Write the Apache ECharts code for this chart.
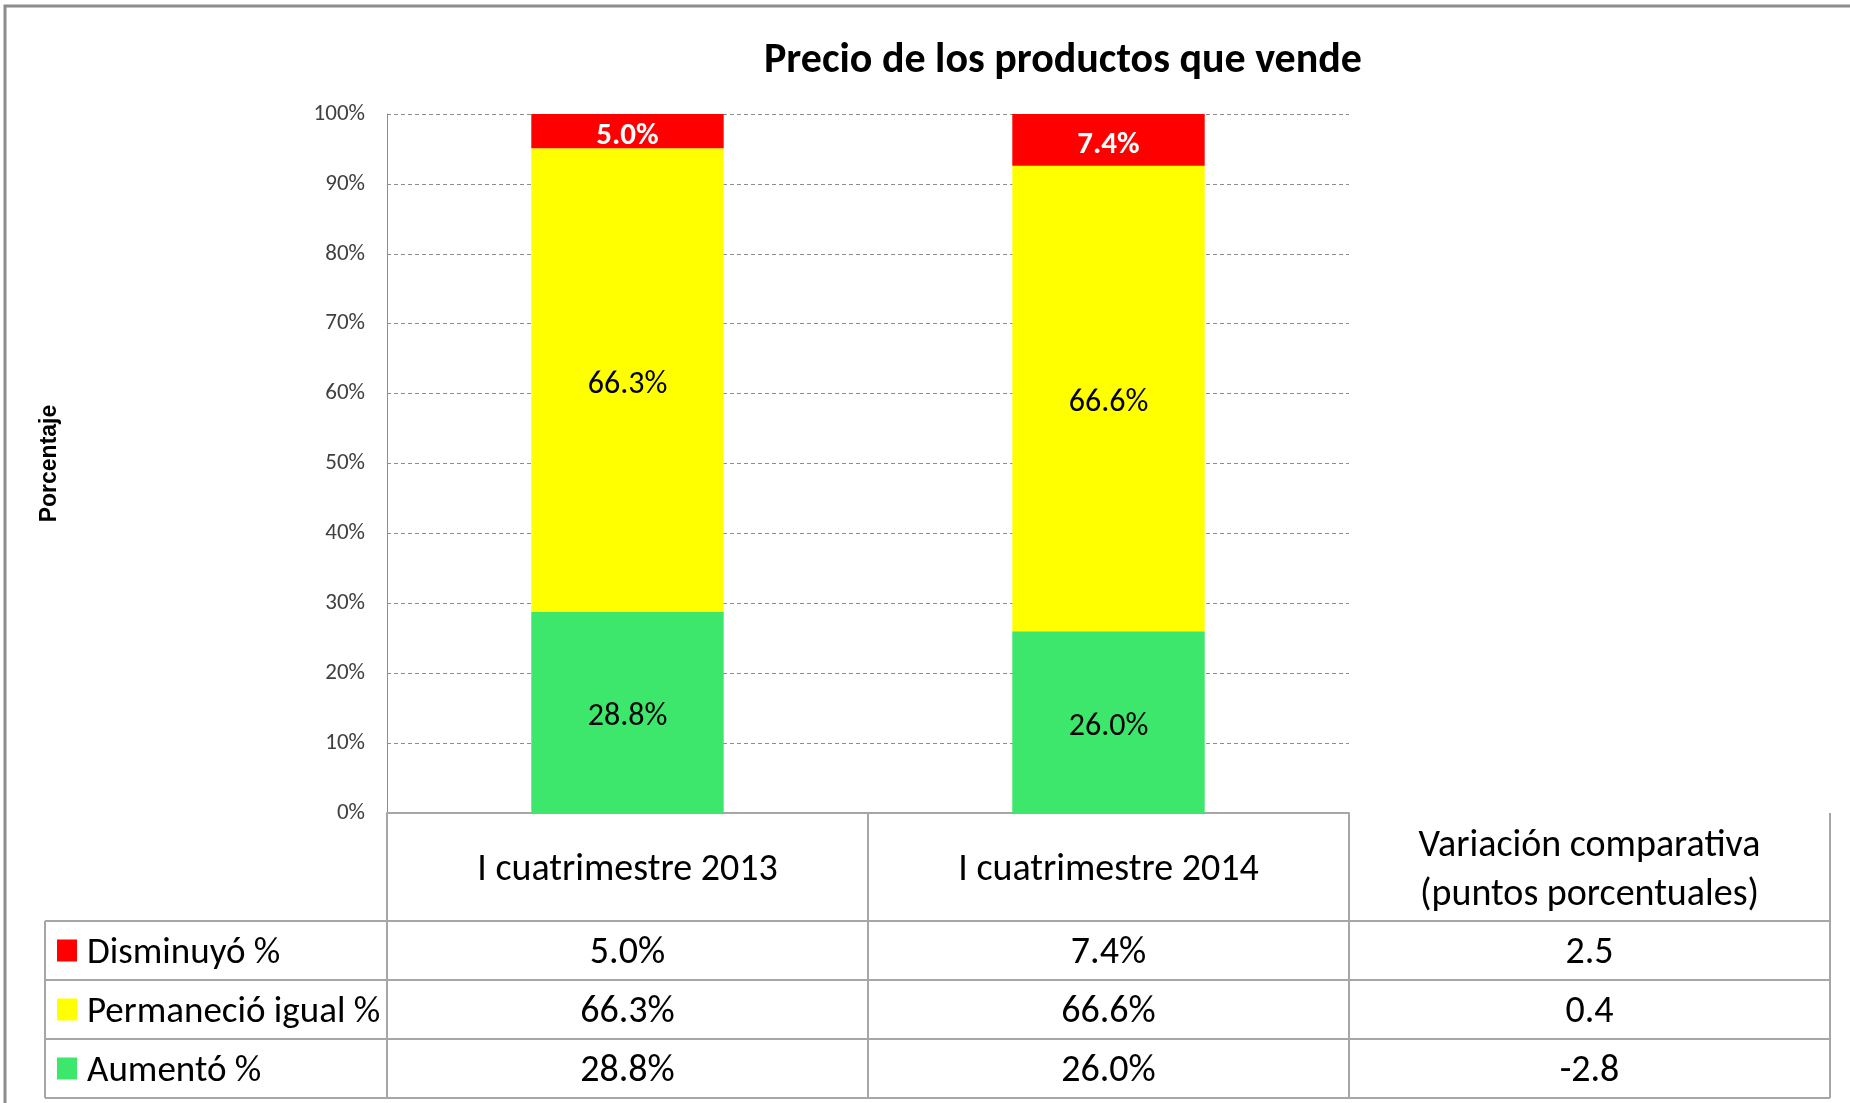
<!DOCTYPE html>
<html>
<head>
<meta charset="utf-8">
<title>Precio de los productos que vende</title>
<script src="https://cdn.jsdelivr.net/npm/echarts@6/dist/echarts.min.js"></script>
<style>
  html, body { margin: 0; padding: 0; background: #fff; }
  #chart { width: 1850px; height: 1103px; }
</style>
</head>
<body>
<div id="chart"></div>
<script>
// datos del gráfico
const categorias = ['I cuatrimestre 2013', 'I cuatrimestre 2014'];
const nombres = ['Disminuyó %', 'Permaneció igual %', 'Aumentó %'];
const disminuyo = [5.0, 7.4];
const permanecio = [66.3, 66.6];
const aumento = [28.8, 26.0];
const variacion = [2.5, 0.4, -2.8]; // en el orden de nombres
const encabezadoVariacion = ['Variación comparativa', '(puntos porcentuales)'];
const yMin = 0, yMax = 100, yPaso = 10;

const colores = ['#ff0000', '#ffff00', '#3de76b'];
const fuente = 'Carlito, "Liberation Sans Narrow", "DejaVu Sans Condensed", "Open Sans", sans-serif';
const gris = '#a6a6a6';

const chart = echarts.init(document.getElementById('chart'));

const fmt = v => v.toFixed(1) + '%';

function serie(nombre, datos, color, etiqueta) {
    return {
        name: nombre,
        type: 'bar',
        stack: 'total',
        barWidth: '40%',
        data: datos,
        itemStyle: { color: color },
        label: Object.assign({
            show: true,
            position: 'inside',
            offset: [0, 5],
            formatter: p => fmt(p.value),
            fontFamily: fuente,
            fontSize: 32,
            color: '#000'
        }, etiqueta || {})
    };
}

chart.setOption({
    animation: false,
    backgroundColor: '#fff',
    title: {
        text: 'Precio de los productos que vende',
        left: 1058,
        top: 35,
        textAlign: 'center',
        textStyle: { fontFamily: fuente, fontSize: 42, fontWeight: 'bold', color: '#000' }
    },
    grid: { left: 387, right: 501, top: 114, bottom: 290 },
    xAxis: {
        type: 'category',
        data: categorias,
        axisLine: { lineStyle: { color: gris, width: 2 } },
        axisTick: { show: false },
        axisLabel: { show: false }
    },
    yAxis: {
        type: 'value',
        min: yMin,
        max: yMax,
        interval: yPaso,
        name: 'Porcentaje',
        nameLocation: 'middle',
        nameRotate: 90,
        nameGap: 326,
        nameTextStyle: { fontFamily: '"Liberation Sans", Arial, sans-serif', fontWeight: 'bold', fontSize: 23, color: '#000' },
        axisLine: { show: true, lineStyle: { color: '#8c8c8c', width: 1 } },
        axisTick: { show: false },
        axisLabel: { formatter: '{value}%', fontFamily: fuente, fontSize: 23, color: '#404040', margin: 22 },
        splitLine: { lineStyle: { color: '#8c8c8c', type: [4, 3], width: 1 } }
    },
    series: [
        serie(nombres[2], aumento, colores[2]),
        serie(nombres[1], permanecio, colores[1]),
        serie(nombres[0], disminuyo, colores[0], { color: '#fff', fontWeight: 'bold', fontSize: 31 })
    ]
});

// tabla de datos bajo el gráfico
function dibujarTabla() {
    const y0 = chart.convertToPixel({ yAxisIndex: 0 }, 0);
    const cx = categorias.map((c, i) => chart.convertToPixel({ xAxisIndex: 0 }, i));
    const ancho = cx[1] - cx[0];
    cx.push(cx[1] + ancho); // columna de variación
    const xIzq = cx[0] - ancho / 2;
    const xDer = cx[2] + ancho / 2;
    const xLeyenda = 45;
    const altoEnc = 108, altoFila = 59;
    const dy = 3; // ajuste vertical del texto
    const yFilas = [0, 1, 2, 3].map(i => y0 + altoEnc + i * altoFila);

    const g = [];
    const linea = (x1, y1, x2, y2) => g.push({
        type: 'line', shape: { x1, y1, x2, y2 },
        style: { stroke: gris, lineWidth: 2 }, silent: true
    });
    const texto = (t, x, y, extra) => g.push({
        type: 'text', x, y: y + dy,
        style: Object.assign({
            text: t, fill: '#000', font: '38px ' + fuente,
            align: 'center', verticalAlign: 'middle'
        }, extra || {})
    });

    // bordes
    linea(xIzq, y0, xIzq, yFilas[3]);
    linea(xIzq + ancho, y0, xIzq + ancho, yFilas[3]);
    linea(xIzq + 2 * ancho, y0, xIzq + 2 * ancho, yFilas[3]);
    linea(xDer, y0, xDer, yFilas[3]);
    linea(xLeyenda, yFilas[0], xLeyenda, yFilas[3]);
    yFilas.forEach(y => linea(xLeyenda, y, xDer, y));

    // encabezados
    const yEnc = y0 + altoEnc / 2;
    categorias.forEach((c, i) => texto(c, cx[i], yEnc));
    texto(encabezadoVariacion[0], cx[2], yEnc - 24);
    texto(encabezadoVariacion[1], cx[2], yEnc + 25);

    // filas
    const valores = [disminuyo, permanecio, aumento];
    nombres.forEach((n, r) => {
        const yc = yFilas[r] + altoFila / 2;
        g.push({
            type: 'rect', shape: { x: 57, y: yc - 11, width: 20, height: 22 },
            style: { fill: colores[r] }
        });
        texto(n, 87, yc, { align: 'left', font: '37px ' + fuente });
        valores[r].forEach((v, i) => texto(fmt(v), cx[i], yc));
        texto(variacion[r].toFixed(1), cx[2], yc);
    });

    // marco exterior
    g.push({
        type: 'rect', shape: { x: 5, y: 6, width: 1860, height: 1120 },
        style: { fill: 'none', stroke: '#8c8c8c', lineWidth: 3 }, silent: true
    });

    chart.setOption({ graphic: g });
}
dibujarTabla();
</script>
</body>
</html>
